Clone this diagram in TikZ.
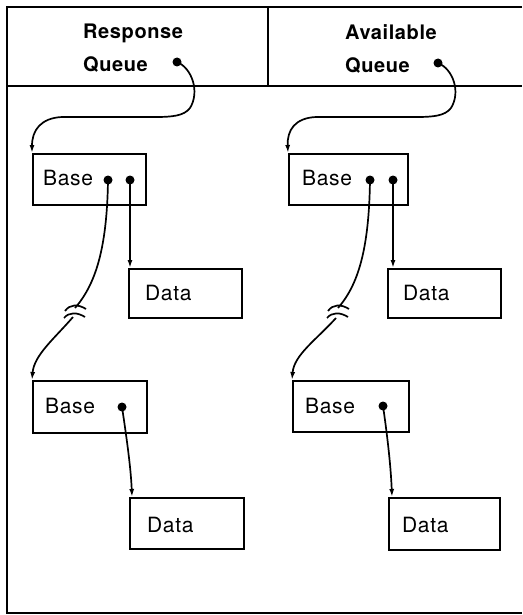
\documentclass[tikz,border=0pt]{standalone}
\usepackage{fontspec}
\setmainfont{TeX Gyre Heros}
\newfontfamily\hdrfont[LetterSpace=3]{TeX Gyre Heros}
\newfontfamily\boxfont[LetterSpace=3]{TeX Gyre Heros}
\usetikzlibrary{arrows.meta,calc}
\begin{document}
\begin{tikzpicture}[x=1pt,y=-1pt,
  frame/.style={line width=2.2pt},
  box/.style={draw, line width=1.6pt, rectangle, inner sep=0pt, anchor=north west},
  lbl/.style={font=\boxfont\fontsize{21}{24}\selectfont, inner sep=0pt, anchor=base west},
  hdr/.style={font=\hdrfont\bfseries\fontsize{20}{33}\selectfont, inner sep=0pt, anchor=north west, align=left},
  dot/.style={circle, fill, inner sep=0pt, minimum size=9pt},
  wire/.style={line width=1.7pt},
  link/.style={wire, -{Latex[length=8pt,width=5pt]}}]
\useasboundingbox (0,0) rectangle (522,615);
% frame
\draw[frame] (522,7) -- (7,7) -- (7,613) -- (522,613);
\draw[frame] (7,86) -- (522,86);
\draw[frame] (268,7) -- (268,86);
% headers
\node[hdr] (hL) at (83,24) {Response\\Queue};
\node[hdr] (hR) at (345,24) {Available\\Queue};
\node[dot] (qL) at (177,62) {};
\node[dot] (qR) at (438,63) {};
% left column boxes
\node[box, minimum width=113pt, minimum height=51pt] (bL1) at (32,153) {};
\node[box, minimum width=113pt, minimum height=49pt] (dL1) at (128,268) {};
\node[box, minimum width=114pt, minimum height=52pt] (bL2) at (32,380) {};
\node[box, minimum width=114pt, minimum height=51pt] (dL2) at (129,497) {};
% right column boxes
\node[box, minimum width=119pt, minimum height=51pt] (bR1) at (288,153) {};
\node[box, minimum width=113pt, minimum height=49pt] (dR1) at (387,268) {};
\node[box, minimum width=116pt, minimum height=51pt] (bR2) at (292,380) {};
\node[box, minimum width=111pt, minimum height=52pt] (dR2) at (388,497) {};
% labels
\node[lbl] (tL1) at (43,185) {Base};
\node[lbl] (tL2) at (145,300) {Data};
\node[lbl] (tL3) at (45,413) {Base};
\node[lbl] (tL4) at (147,532) {Data};
\node[lbl] (tR1) at (302,185) {Base};
\node[lbl] (tR2) at (403,300) {Data};
\node[lbl] (tR3) at (305,413) {Base};
\node[lbl] (tR4) at (402,532) {Data};
% pointer dots
\node[dot] (aL) at (108,180) {};
\node[dot] (bL) at (130,180) {};
\node[dot] (cL) at (122,407) {};
\node[dot] (aR) at (370,180) {};
\node[dot] (bR) at (393,180) {};
\node[dot] (cR) at (383,406) {};
% break coordinates
\coordinate (brLa) at (75,308);
\coordinate (brLb) at (73,317);
\coordinate (brRa) at (338,308);
\coordinate (brRb) at (336,318);
% queue links
\draw[link] (qL.center) .. controls (192,68) and (200,92) .. (190,108)
  .. controls (184,116) and (172,117) .. (155,117) -- (62,117)
  .. controls (41,118) and (32,130) .. (bL1.north west);
\draw[link] (qR.center) .. controls (453,69) and (461,92) .. (451,108)
  .. controls (445,116) and (433,117) .. (416,117) -- (316,117)
  .. controls (295,118) and (287,130) .. (bR1.north west);
% base -> data
\draw[link] (bL.center) -- (bL.center |- dL1.north);
\draw[link] (bR.center) -- (bR.center |- dR1.north);
\draw[link] (cL.center) .. controls (127,440) and (131,470) .. ($(dL2.north west)+(3,0)$);
\draw[link] (cR.center) .. controls (388,440) and (391,470) .. ($(dR2.north west)+(4,0)$);
% base -> base with break
\draw[wire] (aL.center) .. controls (107,250) and (95,285) .. (brLa);
\draw[link] (brLb) .. controls (55,338) and (34,355) .. (bL2.north west);
\draw[wire] (65,311) .. controls (70,304) and (78,304) .. (86,309);
\draw[wire] (64,318) .. controls (69,312) and (77,312) .. (85,317);
\draw[wire] (aR.center) .. controls (369,250) and (358,285) .. (brRa);
\draw[link] (brRb) .. controls (316,340) and (294,355) .. (bR2.north west);
\draw[wire] (328,311) .. controls (333,304) and (341,304) .. (349,309);
\draw[wire] (327,318) .. controls (332,312) and (340,312) .. (348,317);
\end{tikzpicture}
\end{document}
